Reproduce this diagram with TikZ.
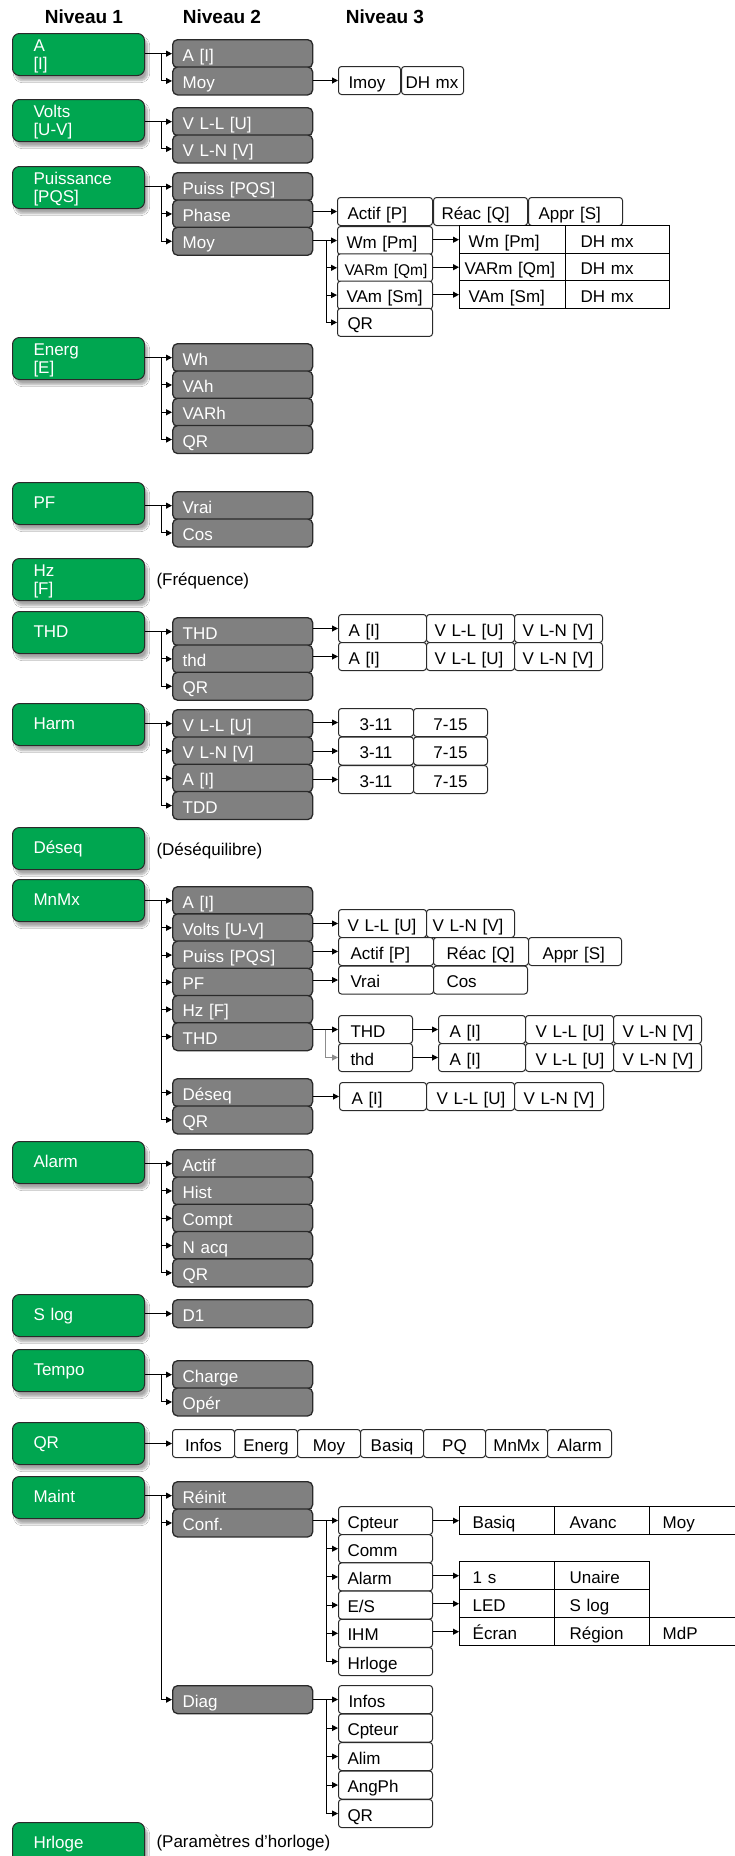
\documentclass[tikz,border=0pt]{standalone}
\usepackage{fontspec}
\setmainfont{Liberation Sans}
\usetikzlibrary{arrows.meta,shadows.blur}
\definecolor{grn}{HTML}{00A650}
\definecolor{gry}{HTML}{808080}
\definecolor{edge}{HTML}{2A2A2A}
\newcommand\fs{\fontsize{17pt}{18pt}\selectfont}
\tikzset{
  basebox/.style={anchor=north west, inner ysep=0pt, text height=15pt, text depth=0pt, font=\fs},
  lone/.style={basebox, draw=edge, line width=1pt, fill=grn, text=white, rounded corners=7pt,
    minimum width=132pt, minimum height=42pt, inner xsep=21pt, text width=90pt, align=left, text depth=5pt,
    blur shadow={shadow xshift=3pt, shadow yshift=-5pt, shadow blur steps=8, shadow opacity=35}},
  ltwo/.style={lone, text depth=21pt},
  gbox/.style={basebox, draw=edge, line width=1.3pt, fill=gry, text=white, rounded corners=5pt,
    minimum width=140pt, minimum height=28pt, inner xsep=10pt, text width=120pt, align=left},
  wbox/.style={basebox, draw=edge, line width=1pt, fill=white, rounded corners=3pt, minimum height=28pt},
  tcell/.style={basebox, draw=black, line width=1.4pt, fill=white, minimum height=28pt},
  arr/.style={draw=black, line width=1pt, -{Triangle[length=6pt,width=6pt]}},
  garr/.style={arr, draw=black!45},
  hdr/.style={font=\fontsize{19pt}{20pt}\selectfont\bfseries, anchor=base},
  note/.style={font=\fs, anchor=base west},
}
% name, x, y, width, inset, text
\newcommand\wbx[6]{\pgfmathsetmacro\mytw{#4-2*#5}%
  \node[wbox, minimum width=#4pt, inner xsep=#5pt, text width=\mytw pt, align=left] (#1) at (#2,#3) {\mbox{#6}};}
\newcommand\wbc[5]{%
  \node[wbox, minimum width=#4pt, inner xsep=0pt, text width=#4pt, align=center] (#1) at (#2,#3) {\mbox{#5}};}
\newcommand\tcx[6]{\pgfmathsetmacro\mytw{#4-2*#5}%
  \node[tcell, minimum width=#4pt, inner xsep=#5pt, text width=\mytw pt, align=left] (#1) at (#2,#3) {\mbox{#6}};}
\begin{document}
\begin{tikzpicture}[x=1pt,y=-1pt]
\useasboundingbox (0,0) rectangle (734,1856);
\fill[white] (0,0) rectangle (734,1856);

% headers
\node[hdr] (h1) at (84,23) {Niveau 1};
\node[hdr] (h2) at (222,23) {Niveau 2};
\node[hdr] (h3) at (385,23) {Niveau 3};

% level 1
\node[ltwo] (gA) at (12,33) {A\\{[I]}};
\node[ltwo] (gV) at (12,99) {Volts\\{[U-V]}};
\node[ltwo] (gP) at (12,166) {Puissance\\{[PQS]}};
\node[ltwo] (gE) at (12,337) {Energ\\{[E]}};
\node[lone] (gPF) at (12,482) {PF};
\node[ltwo] (gHz) at (12,558) {Hz\\{[F]}};
\node[lone] (gT) at (12,611) {THD};
\node[lone] (gH) at (12,703) {Harm};
\node[lone] (gD) at (12,827) {Déseq};
\node[lone] (gM) at (12,879) {MnMx};
\node[lone] (gAl) at (12,1141) {Alarm};
\node[lone] (gS) at (12,1294) {S log};
\node[lone] (gTp) at (12,1349) {Tempo};
\node[lone] (gQ) at (12,1422) {QR};
\node[lone] (gMt) at (12,1476) {Maint};
\node[lone] (gCk) at (12,1822) {Hrloge};

\node[note] (nHz) at (153,585) {(Fréquence)};
\node[note] (nD) at (153,855) {(Déséquilibre)};
\node[note] (nCk) at (153,1847) {(Paramètres d’horloge)};

% ---------- A
\node[gbox] (a1) at (172,39) {A [I]};
\node[gbox] (a2) at (172,66.3) {Moy};
\wbx{aim}{338}{66}{62}{10}{Imoy}
\wbx{adh}{401}{66}{62}{4}{DH mx}
\draw[arr] (gA.east |- a1.west) -- (a1.west);
\draw[arr] ([xshift=-11pt]a1.west) |- (a2.west);
\draw[arr] (a2.east |- aim.west) -- (aim.west);

% ---------- Volts
\node[gbox] (v1) at (172,107) {V L-L [U]};
\node[gbox] (v2) at (172,134.3) {V L-N [V]};
\draw[arr] (gV.east |- v1.west) -- (v1.west);
\draw[arr] ([xshift=-11pt]v1.west) |- (v2.west);

% ---------- Puissance
\node[gbox] (p1) at (172,172) {Puiss [PQS]};
\node[gbox] (p2) at (172,199.3) {Phase};
\node[gbox] (p3) at (172,226.6) {Moy};
\draw[arr] (gP.east |- p1.west) -- (p1.west);
\draw[arr] ([xshift=-11pt]p1.west) |- (p2.west);
\draw[arr] ([xshift=-11pt]p1.west) |- (p3.west);
\wbx{pa}{337}{197}{95}{10}{Actif [P]}
\wbx{pr}{433}{197}{94}{8}{Réac [Q]}
\wbx{ps}{528}{197}{94}{10}{Appr [S]}
\draw[arr] (p2.east |- pa.west) -- (pa.west);
\wbx{pw1}{337}{226}{95}{9}{Wm [Pm]}
\wbx{pw2}{337}{253.3}{95}{7}{\fontsize{15.5pt}{16pt}\selectfont VARm [Qm]}
\wbx{pw3}{337}{280.6}{95}{9}{VAm [Sm]}
\wbx{pw4}{337}{307.9}{95}{10}{QR}
\draw[arr] (p3.east |- pw1.west) -- (pw1.west);
\draw[arr] ([xshift=-11pt]pw1.west) |- (pw2.west);
\draw[arr] ([xshift=-11pt]pw1.west) |- (pw3.west);
\draw[arr] ([xshift=-11pt]pw1.west) |- (pw4.west);
\tcx{pt1}{459}{225}{106}{9}{Wm [Pm]}
\tcx{pd1}{565}{225}{104}{15}{DH mx}
\tcx{pt2}{459}{252.5}{106}{5}{VARm [Qm]}
\tcx{pd2}{565}{252.5}{104}{15}{DH mx}
\tcx{pt3}{459}{280}{106}{9}{VAm [Sm]}
\tcx{pd3}{565}{280}{104}{15}{DH mx}
\draw[arr] (pw1.east |- pt1.west) -- (pt1.west);
\draw[arr] (pw2.east |- pt2.west) -- (pt2.west);
\draw[arr] (pw3.east |- pt3.west) -- (pt3.west);

% ---------- Energ
\node[gbox] (e1) at (172,343) {Wh};
\node[gbox] (e2) at (172,370.3) {VAh};
\node[gbox] (e3) at (172,397.6) {VARh};
\node[gbox] (e4) at (172,424.9) {QR};
\draw[arr] (gE.east |- e1.west) -- (e1.west);
\foreach \n in {e2,e3,e4} \draw[arr] ([xshift=-11pt]e1.west) |- (\n.west);

% ---------- PF
\node[gbox] (f1) at (172,491) {Vrai};
\node[gbox] (f2) at (172,518.3) {Cos};
\draw[arr] (gPF.east |- f1.west) -- (f1.west);
\draw[arr] ([xshift=-11pt]f1.west) |- (f2.west);

% ---------- THD
\node[gbox] (t1) at (172,617) {THD};
\node[gbox] (t2) at (172,644.3) {thd};
\node[gbox] (t3) at (172,671.6) {QR};
\draw[arr] (gT.east |- t1.west) -- (t1.west);
\foreach \n in {t2,t3} \draw[arr] ([xshift=-11pt]t1.west) |- (\n.west);
\wbx{ta1}{338}{614}{88}{10}{A [I]}
\wbx{tb1}{426}{614}{88}{8}{V L-L [U]}
\wbx{tc1}{514}{614}{88}{8}{V L-N [V]}
\wbx{ta2}{338}{642}{88}{10}{A [I]}
\wbx{tb2}{426}{642}{88}{8}{V L-L [U]}
\wbx{tc2}{514}{642}{88}{8}{V L-N [V]}
\draw[arr] (t1.east |- ta1.west) -- (ta1.west);
\draw[arr] (t2.east |- ta2.west) -- (ta2.west);

% ---------- Harm
\node[gbox] (hh1) at (172,709) {V L-L [U]};
\node[gbox] (hh2) at (172,736.3) {V L-N [V]};
\node[gbox] (hh3) at (172,763.6) {A [I]};
\node[gbox] (hh4) at (172,790.9) {TDD};
\draw[arr] (gH.east |- hh1.west) -- (hh1.west);
\foreach \n in {hh2,hh3,hh4} \draw[arr] ([xshift=-11pt]hh1.west) |- (\n.west);
\wbc{hx1}{338}{708}{75}{3-11}
\wbc{hy1}{413}{708}{74}{7-15}
\wbc{hx2}{338}{736.5}{75}{3-11}
\wbc{hy2}{413}{736.5}{74}{7-15}
\wbc{hx3}{338}{765}{75}{3-11}
\wbc{hy3}{413}{765}{74}{7-15}
\draw[arr] (hh1.east |- hx1.west) -- (hx1.west);
\draw[arr] (hh2.east |- hx2.west) -- (hx2.west);
\draw[arr] (hh3.east |- hx3.west) -- (hx3.west);

% ---------- MnMx
\node[gbox] (m1) at (172,886) {A [I]};
\node[gbox] (m2) at (172,913.2) {Volts [U-V]};
\node[gbox] (m3) at (172,940.4) {Puiss [PQS]};
\node[gbox] (m4) at (172,967.6) {PF};
\node[gbox] (m5) at (172,994.8) {Hz [F]};
\node[gbox] (m6) at (172,1022) {THD};
\node[gbox] (m7) at (172,1078) {Déseq};
\node[gbox] (m8) at (172,1105.3) {QR};
\draw[arr] (gM.east |- m1.west) -- (m1.west);
\foreach \n in {m2,m3,m4,m5,m6,m7,m8} \draw[arr] ([xshift=-11pt]m1.west) |- (\n.west);
\wbx{mv1}{338}{909}{88}{9}{V L-L [U]}
\wbx{mv2}{426}{909}{88}{6}{V L-N [V]}
\draw[arr] (m2.east |- mv1.west) -- (mv1.west);
\wbx{mp1}{338}{937}{95}{12}{Actif [P]}
\wbx{mp2}{433}{937}{95}{13}{Réac [Q]}
\wbx{mp3}{528}{937}{93}{14}{Appr [S]}
\draw[arr] (m3.east |- mp1.west) -- (mp1.west);
\wbx{mf1}{338}{965.5}{95}{12}{Vrai}
\wbx{mf2}{433}{965.5}{94}{13}{Cos}
\draw[arr] (m4.east |- mf1.west) -- (mf1.west);
\wbx{mt1}{338}{1015}{74}{12}{THD}
\wbx{mt2}{338}{1043}{74}{12}{thd}
\draw[arr] (m6.east |- mt1.west) -- (mt1.west);
\draw[garr] ([xshift=-13pt]mt1.west) |- (mt2.west);
\wbx{mta1}{438}{1015}{87}{11}{A [I]}
\wbx{mtb1}{525}{1015}{88}{10}{V L-L [U]}
\wbx{mtc1}{613}{1015}{88}{9}{V L-N [V]}
\wbx{mta2}{438}{1043}{87}{11}{A [I]}
\wbx{mtb2}{525}{1043}{88}{10}{V L-L [U]}
\wbx{mtc2}{613}{1043}{88}{9}{V L-N [V]}
\draw[arr] (mt1.east |- mta1.west) -- (mta1.west);
\draw[arr] (mt2.east |- mta2.west) -- (mta2.west);
\wbx{md1}{339}{1082}{87}{12}{A [I]}
\wbx{md2}{426}{1082}{88}{10}{V L-L [U]}
\wbx{md3}{514}{1082}{89}{9}{V L-N [V]}
\draw[arr] (m7.east |- md1.west) -- (md1.west);

% ---------- Alarm
\node[gbox] (al1) at (172,1149) {Actif};
\node[gbox] (al2) at (172,1176.3) {Hist};
\node[gbox] (al3) at (172,1203.6) {Compt};
\node[gbox] (al4) at (172,1230.9) {N acq};
\node[gbox] (al5) at (172,1258.2) {QR};
\draw[arr] (gAl.east |- al1.west) -- (al1.west);
\foreach \n in {al2,al3,al4,al5} \draw[arr] ([xshift=-11pt]al1.west) |- (\n.west);

% ---------- S log
\node[gbox] (s1) at (172,1299) {D1};
\draw[arr] (gS.east |- s1.west) -- (s1.west);

% ---------- Tempo
\node[gbox] (tp1) at (172,1360) {Charge};
\node[gbox] (tp2) at (172,1387.3) {Opér};
\draw[arr] (gTp.east |- tp1.west) -- (tp1.west);
\draw[arr] ([xshift=-11pt]tp1.west) |- (tp2.west);

% ---------- QR
\wbc{q1}{172}{1429}{62}{Infos}
\wbc{q2}{234}{1429}{63}{Energ}
\wbc{q3}{297}{1429}{63}{Moy}
\wbc{q4}{360}{1429}{63}{Basiq}
\wbc{q5}{423}{1429}{62}{PQ}
\wbc{q6}{485}{1429}{62}{MnMx}
\wbc{q7}{547}{1429}{64}{Alarm}
\draw[arr] (gQ.east |- q1.west) -- (q1.west);

% ---------- Maint
\node[gbox] (r1) at (172,1481) {Réinit};
\node[gbox] (r2) at (172,1508.3) {Conf.};
\node[gbox] (r3) at (172,1685) {Diag};
\draw[arr] (gMt.east |- r1.west) -- (r1.west);
\foreach \n in {r2,r3} \draw[arr] ([xshift=-11pt]r1.west) |- (\n.west);
\wbx{c1}{338}{1506}{94}{9}{Cpteur}
\wbx{c2}{338}{1534.2}{94}{9}{Comm}
\wbx{c3}{338}{1562.4}{94}{9}{Alarm}
\wbx{c4}{338}{1590.6}{94}{9}{E/S}
\wbx{c5}{338}{1618.8}{94}{9}{IHM}
\wbx{c6}{338}{1647}{94}{9}{Hrloge}
\draw[arr] (r2.east |- c1.west) -- (c1.west);
\foreach \n in {c2,c3,c4,c5,c6} \draw[arr] ([xshift=-12pt]c1.west) |- (\n.west);
\tcx{cb1}{459}{1506}{95}{13}{Basiq}
\tcx{cb2}{554}{1506}{95}{15}{Avanc}
\tcx{cb3}{649}{1506}{100}{13}{Moy}
\tcx{ca1}{459}{1561}{95}{13}{1 s}
\tcx{ca2}{554}{1561}{95}{15}{Unaire}
\tcx{ce1}{459}{1589}{95}{13}{LED}
\tcx{ce2}{554}{1589}{95}{15}{S log}
\tcx{ci1}{459}{1617}{95}{13}{Écran}
\tcx{ci2}{554}{1617}{95}{15}{Région}
\tcx{ci3}{649}{1617}{100}{13}{MdP}
\draw[arr] (c1.east |- cb1.west) -- (cb1.west);
\draw[arr] (c3.east |- ca1.west) -- (ca1.west);
\draw[arr] (c4.east |- ce1.west) -- (ce1.west);
\draw[arr] (c5.east |- ci1.west) -- (ci1.west);
\wbx{d1}{338}{1685}{94}{10}{Infos}
\wbx{d2}{338}{1713.5}{94}{9}{Cpteur}
\wbx{d3}{338}{1742}{94}{9}{Alim}
\wbx{d4}{338}{1770.5}{94}{9}{AngPh}
\wbx{d5}{338}{1799}{94}{9}{QR}
\draw[arr] (r3.east |- d1.west) -- (d1.west);
\foreach \n in {d2,d3,d4,d5} \draw[arr] ([xshift=-12pt]d1.west) |- (\n.west);
\end{tikzpicture}
\end{document}
